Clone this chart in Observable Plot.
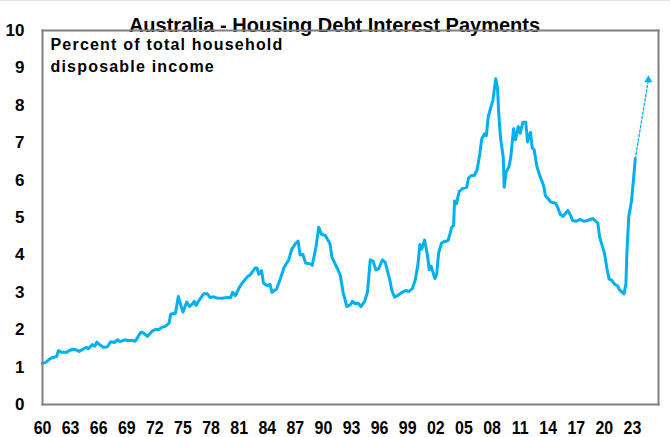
<!DOCTYPE html>
<html>
<head>
<meta charset="utf-8">
<script src="https://cdn.jsdelivr.net/npm/d3@7"></script>
<script src="https://cdn.jsdelivr.net/npm/@observablehq/plot@0.6"></script>
<style>
  html, body { margin: 0; padding: 0; background: #fff; }
  #chart { width: 670px; height: 437px; position: relative; box-sizing: border-box; border-top: 1px solid #e3e3e3; }
</style>
</head>
<body>
<div id="chart"></div>
<script>
const titleText = "Australia - Housing Debt Interest Payments";
const subtitleText = "Percent of total household\ndisposable income";

const years = [
  1960.0,1960.3,1960.7,1961.0,1961.5,1961.7,1962.0,1962.6,1963.2,1963.5,1963.9,1964.4,1964.7,1964.9,
  1965.3,1965.6,1965.8,1966.1,1966.5,1966.9,1967.3,1967.7,1968.0,1968.3,1968.8,1969.1,1969.6,1969.9,
  1970.5,1970.8,1971.2,1971.7,1972.1,1972.4,1972.8,1973.1,1973.5,1973.7,1974.2,1974.5,1974.7,1975.0,
  1975.4,1975.7,1976.0,1976.2,1976.4,1976.7,1977.2,1977.6,1977.9,1978.3,1978.6,1979.2,1979.7,1980.1,
  1980.3,1980.6,1981.0,1981.3,1981.9,1982.2,1982.7,1982.9,1983.1,1983.4,1983.6,1984.0,1984.3,1984.5,
  1985.0,1985.4,1985.8,1986.3,1986.6,1987.0,1987.3,1987.5,1987.8,1988.1,1988.6,1988.8,1989.2,1989.5,
  1989.8,1990.2,1990.7,1990.9,1991.5,1991.8,1992.1,1992.5,1992.9,1993.1,1993.4,1993.7,1994.0,1994.4,
  1994.7,1995.0,1995.3,1995.6,1995.9,1996.3,1996.6,1997.1,1997.3,1997.6,1997.9,1998.4,1998.8,1999.1,
  1999.5,1999.8,2000.1,2000.3,2000.5,2000.8,2001.1,2001.3,2001.5,2001.9,2002.1,2002.3,2002.6,2002.9,
  2003.3,2003.5,2003.7,2003.9,2004.0,2004.2,2004.5,2004.9,2005.3,2005.5,2005.8,2006.1,2006.4,2006.7,
  2006.9,2007.2,2007.4,2007.6,2007.8,2008.1,2008.4,2008.6,2008.7,2008.9,2009.2,2009.3,2009.5,2009.8,
  2010.0,2010.3,2010.5,2010.8,2011.0,2011.3,2011.6,2011.8,2012.1,2012.3,2012.5,2012.8,2013.1,2013.5,
  2013.7,2014.1,2014.3,2014.8,2015.0,2015.3,2015.6,2015.8,2016.1,2016.4,2016.6,2017.0,2017.4,2017.8,
  2018.2,2018.7,2019.0,2019.3,2019.5,2019.8,2020.0,2020.3,2020.5,2020.8,2021.1,2021.4,2021.6,2021.9,
  2022.1,2022.3,2022.4,2022.6,2022.9,2023.1,2023.3
];
const interestShare = [
  1.10,1.12,1.20,1.25,1.28,1.44,1.40,1.40,1.48,1.47,1.42,1.49,1.53,1.49,
  1.60,1.56,1.67,1.60,1.53,1.54,1.68,1.66,1.73,1.68,1.73,1.71,1.71,1.69,
  1.93,1.91,1.82,1.96,2.01,2.00,2.07,2.09,2.17,2.42,2.44,2.89,2.71,2.47,
  2.74,2.62,2.69,2.76,2.65,2.78,2.96,2.96,2.86,2.88,2.85,2.84,2.86,2.86,
  3.00,2.91,3.12,3.24,3.42,3.47,3.65,3.65,3.48,3.58,3.24,3.18,3.21,3.00,
  3.09,3.36,3.67,3.87,4.14,4.30,4.37,4.00,4.01,3.78,3.76,3.72,4.21,4.74,
  4.55,4.52,4.30,3.94,3.63,3.45,3.00,2.62,2.67,2.76,2.69,2.71,2.62,2.76,
  3.00,3.87,3.83,3.60,3.63,3.87,3.80,3.32,3.05,2.87,2.91,3.00,3.05,3.02,
  3.10,3.32,3.76,4.28,4.16,4.40,4.00,3.60,3.70,3.37,3.49,4.05,4.31,4.36,
  4.38,4.55,4.74,4.79,5.44,5.37,5.70,5.78,5.81,6.06,6.12,6.12,6.27,6.70,
  7.10,7.24,7.19,7.70,7.88,8.14,8.71,8.44,7.86,7.15,6.61,5.81,6.21,6.35,
  6.60,7.37,7.08,7.43,7.25,7.55,7.55,7.02,7.28,6.86,6.81,6.36,6.12,5.86,
  5.59,5.47,5.41,5.38,5.28,5.08,5.03,5.10,5.19,5.05,4.92,4.90,4.95,4.90,
  4.92,4.97,4.92,4.85,4.47,4.22,4.05,3.60,3.36,3.32,3.21,3.18,3.07,3.00,
  2.96,3.23,4.03,5.01,5.45,5.99,6.57
];
const projYears = [2023.3, 2024.7];
const projValues = [6.57, 8.68];
const tickYears = d3.range(1960, 2024, 3);
const yTicks = d3.range(0, 11, 1);

const series = years.map((y, i) => ({year: y, value: interestShare[i]}));
const projection = projYears.map((y, i) => ({year: y, value: projValues[i]}));
const xDomain = [1960, 2025.78];
const yDomain = [0, 10];
const frameEdges = [
  {x1: xDomain[0], x2: xDomain[0], y1: yDomain[0], y2: yDomain[1]},
  {x1: xDomain[1], x2: xDomain[1], y1: yDomain[0], y2: yDomain[1]},
  {x1: xDomain[0], x2: xDomain[1], y1: yDomain[0], y2: yDomain[0]},
  {x1: xDomain[0], x2: xDomain[1], y1: yDomain[1], y2: yDomain[1]}
];

const blue = "#00B0F0";
const frameGray = "#808080";
const font = "'Liberation Sans', Arial, sans-serif";

const chart = Plot.plot({
  width: 670,
  height: 436,
  marginLeft: 42,
  marginRight: 12,
  marginTop: 29,
  marginBottom: 33,
  style: {fontFamily: font, fontSize: "16px", fontWeight: "bold", color: "#000", background: "#fff", overflow: "visible"},
  x: {domain: xDomain, axis: null},
  y: {domain: yDomain, axis: null},
  marks: [
    Plot.line(projection, {x: "year", y: "value", stroke: blue, strokeWidth: 1.3, strokeDasharray: "2.5,2"}),
    Plot.dot(projection.slice(1), {x: "year", y: "value", symbol: "triangle", r: 3, fill: blue, stroke: null}),
    Plot.line(series, {x: "year", y: "value", stroke: blue, strokeWidth: 3, strokeLinejoin: "round"}),
    Plot.text(tickYears, {x: d => d, frameAnchor: "bottom", text: d => String(d % 100).padStart(2, "0"), lineAnchor: "bottom", dy: 29, fontSize: 19, fontWeight: "bold", fill: "#000"}),
    Plot.text(yTicks, {y: d => d, frameAnchor: "left", text: d => String(d), textAnchor: "end", dx: -18, fontSize: 17, fontWeight: "bold", fill: "#000"}),
    Plot.text([titleText], {frameAnchor: "top", text: d => d, dx: -16, dy: -13, fontSize: 20, fontWeight: "bold", fill: "#000"}),
    Plot.text([subtitleText], {frameAnchor: "top-left", text: d => d, textAnchor: "start", lineAnchor: "top", dx: 8, dy: 4, fontSize: 16, lineHeight: 1.375, fontWeight: "bold", fill: "#000"}),
    Plot.link(frameEdges, {x1: "x1", x2: "x2", y1: "y1", y2: "y2", stroke: frameGray, strokeWidth: 2, strokeOpacity: 1, strokeLinecap: "square"})
  ]
});
document.getElementById("chart").appendChild(chart);
const svg = d3.select(chart);
svg.selectAll("text").filter(function() { return this.textContent.startsWith("Percent") || this.textContent.startsWith("disposable"); })
  .attr("letter-spacing", "1.2px");
// condense the x-axis year labels horizontally (like a narrow typeface)
const xLabels = new Set(tickYears.map(d => String(d % 100).padStart(2, "0")));
svg.selectAll("text").filter(function() { return xLabels.has(this.textContent) && this.getAttribute("text-anchor") !== "end"; })
  .each(function() {
    const t = this.getAttribute("transform") || "";
    this.setAttribute("transform", t + " scale(0.84,1)");
  });
</script>
</body>
</html>
